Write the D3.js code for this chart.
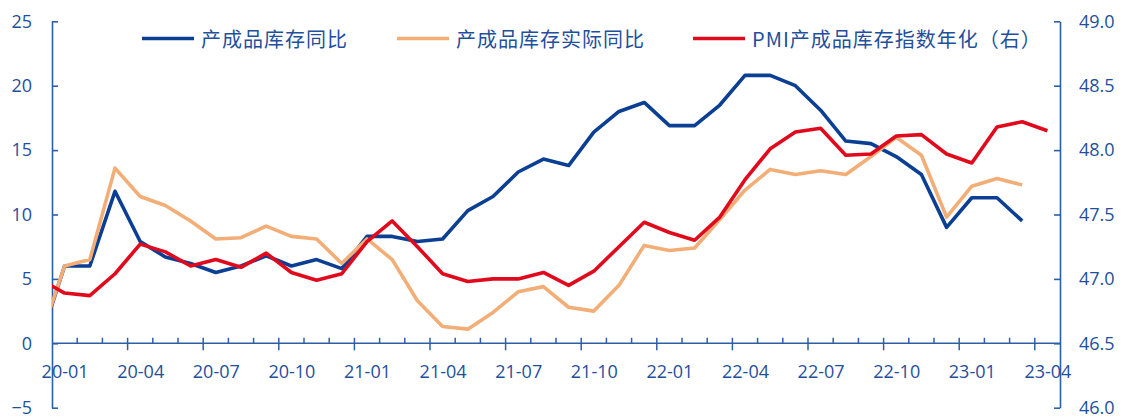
<!DOCTYPE html>
<html>
<head>
<meta charset="utf-8">
<script src="https://cdn.jsdelivr.net/npm/d3@7"></script>
<style>
  html, body { margin: 0; padding: 0; background: #ffffff; }
  svg { display: block; }
</style>
</head>
<body>
<svg id="chart" width="1134" height="416"></svg>
<script>
// Month labels; the first month (19-12) only feeds the line segment clipped at the left edge.
const months = [
  "19-12",
  "20-01","20-02","20-03","20-04","20-05","20-06","20-07","20-08","20-09","20-10","20-11","20-12",
  "21-01","21-02","21-03","21-04","21-05","21-06","21-07","21-08","21-09","21-10","21-11","21-12",
  "22-01","22-02","22-03","22-04","22-05","22-06","22-07","22-08","22-09","22-10","22-11","22-12",
  "23-01","23-02","23-03","23-04"
];

// 产成品库存同比 (%), 19-12 .. 23-03
const inventoryYoY = [
  0.0,
  6.0, 6.0, 11.8, 7.9, 6.7, 6.2, 5.5, 6.0, 6.8, 6.0, 6.5, 5.8,
  8.3, 8.3, 7.9, 8.1, 10.3, 11.4, 13.3, 14.3, 13.8, 16.4, 18.0, 18.7,
  16.9, 16.9, 18.5, 20.8, 20.8, 20.0, 18.1, 15.7, 15.5, 14.5, 13.1, 9.0,
  11.3, 11.3, 9.5
];

// 产成品库存实际同比 (%), 19-12 .. 23-03
const inventoryRealYoY = [
  0.2,
  6.0, 6.5, 13.6, 11.4, 10.7, 9.5, 8.1, 8.2, 9.1, 8.3, 8.1, 6.2,
  8.1, 6.5, 3.3, 1.3, 1.1, 2.4, 4.0, 4.4, 2.8, 2.5, 4.5, 7.6,
  7.2, 7.4, 9.6, 11.9, 13.5, 13.1, 13.4, 13.1, 14.5, 16.0, 14.6, 9.8,
  12.2, 12.8, 12.3
];

// PMI产成品库存指数年化 (right axis), 19-12 .. 23-04
const pmiInventory = [
  47.00,
  46.89, 46.87, 47.04, 47.27, 47.21, 47.10, 47.15, 47.09, 47.20, 47.05, 46.99, 47.04,
  47.29, 47.45, 47.25, 47.04, 46.98, 47.00, 47.00, 47.05, 46.95, 47.06, 47.25, 47.44,
  47.36, 47.30, 47.48, 47.77, 48.01, 48.14, 48.17, 47.96, 47.97, 48.11, 48.12, 47.97,
  47.90, 48.18, 48.22, 48.15
];

const leftTicks = [-5, 0, 5, 10, 15, 20, 25];
const rightTicks = [46.0, 46.5, 47.0, 47.5, 48.0, 48.5, 49.0];
const labelMonths = ["20-01","20-04","20-07","20-10","21-01","21-04","21-07","21-10","22-01","22-04","22-07","22-10","23-01","23-04"];

const seriesNames = ["产成品库存同比", "产成品库存实际同比", "PMI产成品库存指数年化（右）"];
const colors = { blue: "#0b3f93", orange: "#f2ae76", red: "#e10a1d" };
const axisColor = "#2f5ea9";
const textColor = "#1f4f9d";

const svg = d3.select("#chart");
const plot = { left: 52, right: 1060, top: 21.3, bottom: 407.7 };

// Month slot k (0 = 20-01) spans [k, k+1]; a data point sits at the middle of its slot.
const x = d3.scaleLinear().domain([0, 40]).range([plot.left, plot.right]);
const yL = d3.scaleLinear().domain([-5, 25]).range([plot.bottom, plot.top]);
const yR = d3.scaleLinear().domain([46, 49]).range([plot.bottom, plot.top]);
const slotOf = i => i - 1 + 0.5;   // i indexes into months (0 = 19-12)

svg.append("defs").append("clipPath").attr("id", "plotClip")
  .append("rect")
  .attr("x", plot.left).attr("y", plot.top)
  .attr("width", plot.right - plot.left).attr("height", plot.bottom - plot.top);

const fontNum = "'Open Sans', 'Noto Sans', sans-serif";
const fontCJK = "'Noto Sans CJK SC', 'Noto Sans', sans-serif";

// Left axis: ticks point inward (to the right)
const gL = svg.append("g").attr("transform", `translate(${plot.left},0)`)
  .call(d3.axisLeft(yL).tickValues(leftTicks).tickSizeInner(-6).tickSizeOuter(0).tickPadding(20).tickFormat(d3.format("d")));
// Right axis: ticks point inward (to the left)
const gR = svg.append("g").attr("transform", `translate(${plot.right},0)`)
  .call(d3.axisRight(yR).tickValues(rightTicks).tickSizeInner(-6).tickSizeOuter(0).tickPadding(19).tickFormat(d3.format(".1f")));

[gL, gR].forEach(g => {
  g.select(".domain").attr("stroke", axisColor).attr("stroke-width", 1.6);
  g.selectAll(".tick line").attr("stroke", axisColor).attr("stroke-width", 1.6);
  g.selectAll(".tick text").attr("fill", textColor).style("font-family", fontNum).style("font-size", "18px");
});

// Horizontal category axis along the zero line
const y0 = yL(0);
const gX = svg.append("g").attr("transform", `translate(0,${y0})`);
gX.append("line").attr("x1", plot.left).attr("x2", plot.right).attr("y1", 0).attr("y2", 0)
  .attr("stroke", axisColor).attr("stroke-width", 1.6);

const boundaries = d3.range(1, 40);
gX.selectAll("line.tk").data(boundaries).join("line").attr("class", "tk")
  .attr("x1", d => x(d)).attr("x2", d => x(d))
  .attr("y1", -5.5)
  .attr("y2", d => d % 3 === 0 ? 7 : 0)
  .attr("stroke", axisColor).attr("stroke-width", 1.5);

const labelAxis = d3.axisBottom(x)
  .tickValues(labelMonths.map(m => months.indexOf(m) - 1 + 0.5))
  .tickFormat((d, i) => labelMonths[i])
  .tickSize(0).tickPadding(22);
const gLab = svg.append("g").attr("transform", `translate(0,${y0})`).call(labelAxis);
gLab.select(".domain").remove();
gLab.selectAll(".tick text").attr("fill", textColor).style("font-family", fontNum).style("font-size", "18px");

// Lines
const lines = svg.append("g").attr("clip-path", "url(#plotClip)");
const lineL = d3.line().x((d, i) => x(slotOf(i))).y(d => yL(d));
const lineR = d3.line().x((d, i) => x(slotOf(i))).y(d => yR(d));

lines.append("path").datum(inventoryYoY).attr("d", lineL)
  .attr("fill", "none").attr("stroke", colors.blue).attr("stroke-width", 3.6).attr("stroke-linejoin", "round");
lines.append("path").datum(inventoryRealYoY).attr("d", lineL)
  .attr("fill", "none").attr("stroke", colors.orange).attr("stroke-width", 3.6).attr("stroke-linejoin", "round");
lines.append("path").datum(pmiInventory).attr("d", lineR)
  .attr("fill", "none").attr("stroke", colors.red).attr("stroke-width", 3.6).attr("stroke-linejoin", "round");

// Legend
const legendItems = [
  { name: seriesNames[0], color: colors.blue, x: 142 },
  { name: seriesNames[1], color: colors.orange, x: 397 },
  { name: seriesNames[2], color: colors.red, x: 693 }
];
const lg = svg.append("g").attr("transform", "translate(0,38.5)");
const li = lg.selectAll("g").data(legendItems).join("g").attr("transform", d => `translate(${d.x},0)`);
li.append("line").attr("x1", 0).attr("x2", 52).attr("y1", 0).attr("y2", 0)
  .attr("stroke", d => d.color).attr("stroke-width", 3.6);
li.append("text").attr("x", 59).attr("y", 0).attr("dominant-baseline", "central")
  .attr("fill", textColor).style("font-family", fontCJK).style("font-size", "20px")
  .style("letter-spacing", "1px")
  .text(d => d.name);
</script>
</body>
</html>
